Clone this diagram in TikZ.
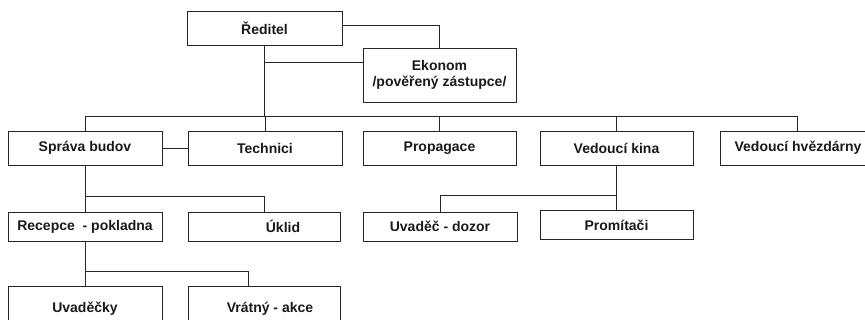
\documentclass[tikz,border=0pt]{standalone}
\usepackage{fontspec}
\setmainfont{Liberation Sans}
\begin{document}
\begin{tikzpicture}[x=1pt,y=-1pt,
  box/.style={draw=black!85, line width=0.8pt, inner sep=0pt, font=\bfseries\fontsize{14}{17}\selectfont, text=black!90, align=center},
  conn/.style={draw=black!85, line width=0.8pt}]
\useasboundingbox (0,0) rectangle (865,320);
\clip (0,0) rectangle (865,320);
% row 1
\node[box, minimum width=155pt, minimum height=34pt] (red) at (264.5,28) {Ředitel};
\node[box, minimum width=153pt, minimum height=54pt] (eko) at (439.5,75) {Ekonom\\[-1pt]/pověřený zástupce/};
% row 2
\node[box, minimum width=154pt, minimum height=34pt] (spr) at (85,148) {Správa budov};
\node[box, minimum width=154pt, minimum height=34pt] (tech) at (265,148) {Technici};
\node[box, minimum width=153pt, minimum height=34pt] (prop) at (439.5,148) {Propagace};
\node[box, minimum width=153pt, minimum height=34pt] (vk) at (616.5,148) {Vedoucí kina};
\node[box, minimum width=148pt, minimum height=34pt] (hv) at (794,148) {\hspace*{8pt}Vedoucí hvězdárny};
% row 3
\node[box, minimum width=154pt, minimum height=29pt] (rec) at (85,226.5) {Recepce\ \ - pokladna};
\node[box, minimum width=152pt, minimum height=29pt] (ukl) at (264,226.5) {\hspace*{38pt}Úklid};
\node[box, minimum width=154pt, minimum height=29pt] (uv) at (440,226.5) {Uvaděč - dozor};
\node[box, minimum width=153pt, minimum height=29pt] (pro) at (616.5,225) {Promítači};
% row 4
\node[box, minimum width=154pt, minimum height=46pt] (uvk) at (85,309) {Uvaděčky};
\node[box, minimum width=152pt, minimum height=46pt] (vr) at (264,309) {\hspace*{12pt}Vrátný - akce};
% connectors
\draw[conn] ([yshift=3pt]red.east) -| (eko.north);
\coordinate (busL) at (85,116);
\coordinate (busR) at (797,116);
\coordinate (ek) at (264.5,62);
\draw[conn] (red.south) -- (red.south |- busL);
\draw[conn] (ek) -- (ek -| eko.west);
\draw[conn] (busL) -- (busR);
\draw[conn] (busL) -- (spr.north);
\draw[conn] (tech.north |- busL) -- (tech.north);
\draw[conn] (prop.north |- busL) -- (prop.north);
\draw[conn] (vk.north |- busL) -- (vk.north);
\draw[conn] (busR) -- (busR |- hv.north);
\draw[conn] (spr.east) -- (tech.west);
\coordinate (b2) at (85,196);
\draw[conn] (spr.south) -- (b2) -| (ukl.north);
\draw[conn] (b2) -- (rec.north);
\coordinate (b3) at (616.5,195);
\draw[conn] (vk.south) -- (b3) -| (uv.north);
\draw[conn] (b3) -- (pro.north);
\coordinate (b4) at (85,271);
\coordinate (b4r) at (248,271);
\draw[conn] (rec.south) -- (b4) -- (b4r) -- (b4r |- vr.north);
\draw[conn] (b4) -- (uvk.north);
\end{tikzpicture}
\end{document}
